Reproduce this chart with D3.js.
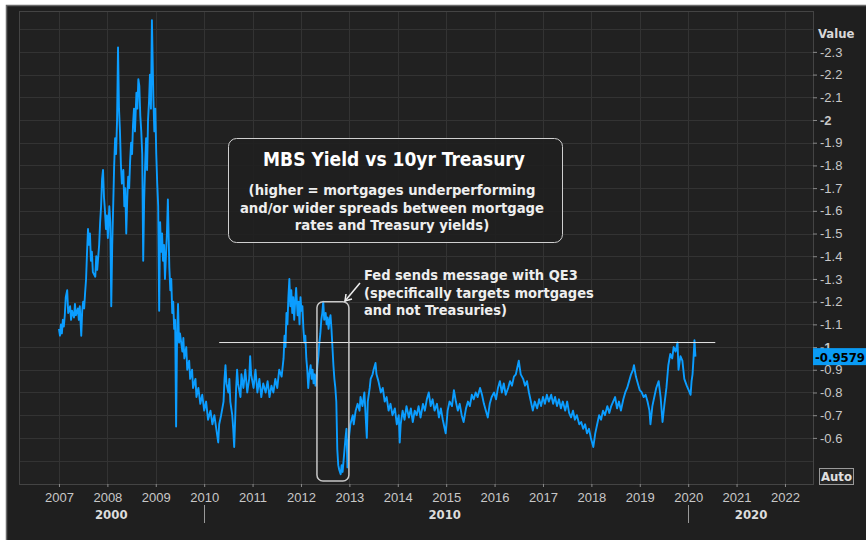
<!DOCTYPE html>
<html>
<head>
<meta charset="utf-8">
<script src="https://cdn.jsdelivr.net/npm/d3@7"></script>
<style>
  html, body { margin: 0; padding: 0; background: #fff; }
  svg { display: block; font-family: "DejaVu Sans Condensed", "DejaVu Sans", sans-serif; font-stretch: condensed; }
</style>
</head>
<body>
<svg id="chart" width="866" height="540"></svg>
<script>
// MBS yield minus 10yr Treasury (decimal year, value)
const spreadSeries = [
  [2007.00,-1.08],[2007.02,-1.05],[2007.04,-1.10],[2007.06,-1.06],[2007.08,-1.12],[2007.10,-1.09],
  [2007.12,-1.14],[2007.14,-1.22],[2007.17,-1.25],[2007.19,-1.15],[2007.23,-1.18],[2007.25,-1.12],
  [2007.27,-1.16],[2007.31,-1.13],[2007.33,-1.19],[2007.35,-1.14],[2007.39,-1.17],[2007.41,-1.12],
  [2007.43,-1.18],[2007.46,-1.05],[2007.48,-1.16],[2007.50,-1.20],[2007.52,-1.17],[2007.54,-1.24],
  [2007.56,-1.30],[2007.58,-1.42],[2007.60,-1.52],[2007.62,-1.45],[2007.64,-1.50],[2007.66,-1.38],
  [2007.68,-1.42],[2007.70,-1.33],[2007.75,-1.31],[2007.77,-1.40],[2007.79,-1.34],[2007.83,-1.45],
  [2007.85,-1.55],[2007.87,-1.62],[2007.89,-1.74],[2007.91,-1.78],[2007.93,-1.66],[2007.95,-1.60],
  [2007.97,-1.52],[2007.99,-1.58],[2008.01,-1.48],[2008.04,-1.62],[2008.06,-1.55],[2008.08,-1.18],
  [2008.10,-1.45],[2008.12,-1.62],[2008.14,-1.80],[2008.16,-1.92],[2008.18,-1.85],[2008.20,-2.00],
  [2008.22,-2.32],[2008.24,-2.05],[2008.26,-1.95],[2008.28,-1.80],[2008.30,-1.72],[2008.33,-1.78],
  [2008.35,-1.62],[2008.37,-1.70],[2008.39,-1.50],[2008.41,-1.65],[2008.43,-1.75],[2008.45,-1.70],
  [2008.47,-1.82],[2008.49,-1.90],[2008.51,-1.85],[2008.53,-1.98],[2008.55,-2.05],[2008.57,-1.95],
  [2008.60,-2.12],[2008.62,-2.05],[2008.64,-2.18],[2008.66,-2.15],[2008.68,-2.02],[2008.70,-1.95],
  [2008.72,-1.85],[2008.74,-1.38],[2008.76,-1.65],[2008.78,-1.80],[2008.80,-1.92],[2008.82,-1.78],
  [2008.84,-2.00],[2008.86,-2.08],[2008.88,-2.20],[2008.90,-2.05],[2008.92,-2.44],[2008.95,-2.10],
  [2008.97,-1.95],[2008.99,-2.05],[2009.01,-1.85],[2009.03,-1.72],[2009.05,-1.62],[2009.07,-1.16],
  [2009.09,-1.55],[2009.11,-1.42],[2009.13,-1.50],[2009.15,-1.38],[2009.17,-1.45],[2009.19,-1.30],
  [2009.21,-1.40],[2009.23,-1.50],[2009.25,-1.65],[2009.28,-1.35],[2009.30,-1.25],[2009.32,-1.30],
  [2009.34,-1.15],[2009.36,-1.20],[2009.38,-1.08],[2009.40,-1.12],[2009.42,-0.65],[2009.44,-1.05],
  [2009.46,-1.19],[2009.48,-1.02],[2009.50,-1.06],[2009.55,-0.98],[2009.57,-1.04],[2009.59,-0.95],
  [2009.63,-1.00],[2009.65,-0.90],[2009.69,-0.94],[2009.71,-0.86],[2009.75,-0.90],[2009.77,-0.82],
  [2009.82,-0.86],[2009.84,-0.78],[2009.88,-0.82],[2009.92,-0.75],[2009.96,-0.79],[2010.00,-0.72],
  [2010.04,-0.76],[2010.08,-0.68],[2010.13,-0.72],[2010.17,-0.66],[2010.21,-0.70],[2010.25,-0.64],
  [2010.29,-0.58],[2010.31,-0.66],[2010.35,-0.70],[2010.40,-0.76],[2010.42,-0.86],[2010.44,-0.92],
  [2010.46,-0.84],[2010.50,-0.80],[2010.52,-0.86],[2010.54,-0.76],[2010.58,-0.70],[2010.60,-0.64],
  [2010.62,-0.56],[2010.64,-0.68],[2010.66,-0.82],[2010.68,-0.90],[2010.70,-0.84],[2010.75,-0.78],
  [2010.77,-0.88],[2010.81,-0.82],[2010.85,-0.90],[2010.89,-0.80],[2010.93,-0.86],[2010.95,-0.96],
  [2010.97,-0.88],[2011.02,-0.82],[2011.06,-0.90],[2011.10,-0.80],[2011.14,-0.86],[2011.18,-0.78],
  [2011.22,-0.84],[2011.27,-0.80],[2011.31,-0.85],[2011.35,-0.78],[2011.39,-0.83],[2011.43,-0.80],
  [2011.47,-0.86],[2011.51,-0.82],[2011.55,-0.90],[2011.60,-0.87],[2011.64,-0.95],[2011.66,-1.05],
  [2011.68,-1.00],[2011.70,-1.15],[2011.72,-1.10],[2011.74,-1.22],[2011.76,-1.30],[2011.78,-1.18],
  [2011.80,-1.25],[2011.82,-1.15],[2011.84,-1.22],[2011.86,-1.12],[2011.88,-1.20],[2011.90,-1.26],
  [2011.93,-1.14],[2011.95,-1.20],[2011.97,-1.10],[2011.99,-1.22],[2012.01,-1.16],[2012.03,-1.18],
  [2012.05,-1.08],[2012.07,-1.02],[2012.09,-1.05],[2012.11,-0.95],[2012.13,-0.90],[2012.15,-0.82],
  [2012.17,-0.88],[2012.20,-0.92],[2012.22,-0.86],[2012.24,-0.90],[2012.26,-0.84],[2012.28,-0.88],
  [2012.30,-0.83],[2012.32,-0.87],[2012.34,-0.92],[2012.36,-0.96],[2012.38,-1.02],[2012.40,-1.06],
  [2012.42,-1.12],[2012.44,-1.15],[2012.46,-1.20],[2012.48,-1.12],[2012.51,-1.15],[2012.53,-1.10],
  [2012.55,-1.13],[2012.57,-1.08],[2012.59,-1.12],[2012.61,-1.14],[2012.63,-1.08],[2012.65,-1.00],
  [2012.67,-0.92],[2012.69,-0.86],[2012.71,-0.82],[2012.73,-0.76],[2012.75,-0.55],[2012.77,-0.48],
  [2012.79,-0.46],[2012.82,-0.44],[2012.84,-0.48],[2012.86,-0.45],[2012.88,-0.50],[2012.90,-0.55],
  [2012.92,-0.60],[2012.94,-0.64],[2012.96,-0.47],[2012.98,-0.58],[2013.00,-0.62],[2013.02,-0.66],
  [2013.07,-0.70],[2013.09,-0.66],[2013.13,-0.72],[2013.17,-0.75],[2013.21,-0.72],[2013.23,-0.78],
  [2013.27,-0.74],[2013.31,-0.80],[2013.36,-0.60],[2013.38,-0.76],[2013.42,-0.82],[2013.44,-0.86],
  [2013.48,-0.88],[2013.50,-0.90],[2013.54,-0.93],[2013.56,-0.88],[2013.60,-0.85],[2013.65,-0.80],
  [2013.69,-0.82],[2013.73,-0.76],[2013.77,-0.78],[2013.81,-0.72],[2013.85,-0.75],[2013.89,-0.70],
  [2013.94,-0.73],[2013.98,-0.66],[2014.02,-0.70],[2014.04,-0.58],[2014.06,-0.66],[2014.10,-0.72],
  [2014.14,-0.68],[2014.18,-0.74],[2014.23,-0.69],[2014.27,-0.73],[2014.31,-0.67],[2014.35,-0.72],
  [2014.39,-0.70],[2014.43,-0.74],[2014.47,-0.69],[2014.52,-0.75],[2014.56,-0.72],[2014.60,-0.77],
  [2014.64,-0.80],[2014.68,-0.74],[2014.72,-0.77],[2014.76,-0.72],[2014.81,-0.75],[2014.85,-0.69],
  [2014.89,-0.73],[2014.93,-0.68],[2014.99,-0.62],[2015.03,-0.72],[2015.07,-0.76],[2015.12,-0.74],
  [2015.16,-0.81],[2015.20,-0.76],[2015.24,-0.72],[2015.28,-0.75],[2015.32,-0.70],[2015.36,-0.67],
  [2015.41,-0.73],[2015.45,-0.76],[2015.49,-0.74],[2015.53,-0.79],[2015.57,-0.77],[2015.61,-0.80],
  [2015.65,-0.78],[2015.70,-0.82],[2015.74,-0.79],[2015.78,-0.75],[2015.82,-0.72],[2015.86,-0.69],
  [2015.90,-0.75],[2015.94,-0.78],[2015.99,-0.80],[2016.03,-0.77],[2016.07,-0.82],[2016.11,-0.85],
  [2016.15,-0.80],[2016.19,-0.84],[2016.23,-0.79],[2016.28,-0.82],[2016.32,-0.85],[2016.36,-0.83],
  [2016.40,-0.87],[2016.44,-0.88],[2016.48,-0.92],[2016.50,-0.94],[2016.54,-0.88],[2016.59,-0.86],
  [2016.63,-0.83],[2016.67,-0.85],[2016.71,-0.80],[2016.75,-0.76],[2016.79,-0.72],[2016.83,-0.76],
  [2016.88,-0.73],[2016.92,-0.77],[2016.96,-0.74],[2017.00,-0.78],[2017.04,-0.75],[2017.08,-0.79],
  [2017.12,-0.76],[2017.17,-0.79],[2017.21,-0.75],[2017.25,-0.78],[2017.29,-0.74],[2017.33,-0.77],
  [2017.37,-0.73],[2017.41,-0.76],[2017.46,-0.72],[2017.50,-0.76],[2017.54,-0.71],[2017.58,-0.69],
  [2017.62,-0.72],[2017.66,-0.68],[2017.70,-0.70],[2017.75,-0.66],[2017.79,-0.67],[2017.83,-0.64],
  [2017.87,-0.66],[2017.91,-0.62],[2017.95,-0.64],[2017.99,-0.60],[2018.04,-0.56],[2018.08,-0.62],
  [2018.12,-0.66],[2018.16,-0.70],[2018.20,-0.68],[2018.24,-0.72],[2018.28,-0.70],[2018.33,-0.74],
  [2018.37,-0.71],[2018.41,-0.74],[2018.45,-0.76],[2018.49,-0.78],[2018.53,-0.73],[2018.57,-0.76],
  [2018.61,-0.72],[2018.66,-0.77],[2018.70,-0.80],[2018.74,-0.82],[2018.78,-0.85],[2018.82,-0.88],
  [2018.86,-0.90],[2018.88,-0.92],[2018.92,-0.87],[2018.96,-0.84],[2019.00,-0.81],[2019.04,-0.80],
  [2019.08,-0.78],[2019.12,-0.79],[2019.16,-0.76],[2019.20,-0.72],[2019.22,-0.66],[2019.26,-0.74],
  [2019.30,-0.78],[2019.34,-0.82],[2019.39,-0.85],[2019.43,-0.78],[2019.47,-0.67],[2019.51,-0.75],
  [2019.55,-0.82],[2019.59,-0.92],[2019.63,-0.97],[2019.67,-0.95],[2019.70,-1.00],[2019.74,-0.98],
  [2019.78,-1.02],[2019.80,-0.90],[2019.84,-0.96],[2019.88,-0.94],[2019.92,-0.86],[2019.97,-0.83],
  [2020.01,-0.81],[2020.05,-0.79],[2020.07,-0.85],[2020.09,-0.88],[2020.11,-0.95],[2020.13,-1.03],
  [2020.15,-0.9579]
];

const yearTicks = d3.range(2007, 2023);
const valueTicks = d3.range(23, 5, -1).map(d => -d / 10);   // labelled -2.3 .. -0.6
const gridValues = d3.range(24, 4, -1).map(d => -d / 10);   // -2.4 .. -0.5
const eraLabels = [{ label: '2000', year: 2008.08 }, { label: '2010', year: 2014.97 }, { label: '2020', year: 2021.3 }];
const eraBreaks = [2010, 2020];

const refLine = { value: -1.02, from: 2010.31, to: 2020.56 };
const qe3Window = { from: 2012.33, to: 2012.99, top: -1.2, bottom: -0.41 };

const titleText = 'MBS Yield vs 10yr Treasury';
const subtitleLines = ['(higher = mortgages underperforming', 'and/or wider spreads between mortgage', 'rates and Treasury yields)'];
const qe3Lines = ['Fed sends message with QE3', '(specifically targets mortgages', 'and not Treasuries)'];

const plot = { left: 19, top: 11, right: 813, bottom: 484 };
const svg = d3.select('#chart');

const x = d3.scaleLinear().domain([2006.174, 2022.579]).range([plot.left, plot.right]);
const y = d3.scaleLinear().domain([-2.48, -0.397]).range([plot.top, plot.bottom]);

// panel
svg.append('rect').attr('x', 6.5).attr('y', 5.5).attr('width', 866).attr('height', 540)
  .attr('fill', '#1f1f1f').attr('stroke', '#6a6a6a').attr('stroke-width', 1.5);
svg.append('rect').attr('x', plot.left).attr('y', plot.top)
  .attr('width', plot.right - plot.left).attr('height', plot.bottom - plot.top)
  .attr('fill', '#212121');

// grid
const grid = svg.append('g').attr('stroke', '#333').attr('stroke-width', 1);
grid.selectAll('.gv').data(yearTicks).enter().append('line')
  .attr('x1', d => Math.round(x(d)) + 0.5).attr('x2', d => Math.round(x(d)) + 0.5)
  .attr('y1', plot.top).attr('y2', plot.bottom);
grid.selectAll('.gh').data(gridValues).enter().append('line')
  .attr('x1', plot.left).attr('x2', plot.right)
  .attr('y1', d => Math.round(y(d)) + 0.5).attr('y2', d => Math.round(y(d)) + 0.5);

svg.append('rect').attr('x', plot.left + 0.5).attr('y', plot.top + 0.5)
  .attr('width', plot.right - plot.left).attr('height', plot.bottom - plot.top)
  .attr('fill', 'none').attr('stroke', '#444');

// series
const line = d3.line().x(d => x(d[0])).y(d => y(d[1]));
svg.append('path').datum(spreadSeries)
  .attr('d', line).attr('fill', 'none')
  .attr('stroke', '#0b9dff').attr('stroke-width', 1.9).attr('stroke-linejoin', 'round');

// reference line
svg.append('line')
  .attr('x1', x(refLine.from)).attr('x2', x(refLine.to))
  .attr('y1', y(refLine.value)).attr('y2', y(refLine.value))
  .attr('stroke', '#e6e6e6').attr('stroke-width', 1);

// QE3 window
svg.append('rect')
  .attr('x', x(qe3Window.from)).attr('y', y(qe3Window.top))
  .attr('width', x(qe3Window.to) - x(qe3Window.from))
  .attr('height', y(qe3Window.bottom) - y(qe3Window.top))
  .attr('rx', 6).attr('fill', 'none').attr('stroke', '#c8c8c8').attr('stroke-width', 1.5);

// arrow
const ax1 = 360, ay1 = 283, ax2 = 345, ay2 = 301;
svg.append('line').attr('x1', ax1).attr('y1', ay1).attr('x2', ax2).attr('y2', ay2)
  .attr('stroke', '#eee').attr('stroke-width', 1.5);
svg.append('path').attr('d', `M${ax2 + 1},${ay2 - 7} L${ax2},${ay2} L${ax2 + 7},${ay2 - 2}`)
  .attr('fill', 'none').attr('stroke', '#eee').attr('stroke-width', 1.5);

const qe3 = svg.append('text').attr('fill', '#eee').attr('font-weight', 'bold').attr('font-size', 14.5);
qe3.selectAll('tspan').data(qe3Lines).enter().append('tspan')
  .attr('x', 364).attr('y', (d, i) => 280 + i * 17.5).text(d => d);

// title box
svg.append('rect').attr('x', 228.5).attr('y', 138.5).attr('width', 334).attr('height', 104)
  .attr('rx', 8).attr('fill', '#1f1f1f').attr('fill-opacity', 0.9)
  .attr('stroke', '#cfcfcf').attr('stroke-width', 1);
svg.append('text').attr('x', 394).attr('y', 166).attr('text-anchor', 'middle')
  .attr('fill', '#fff').attr('font-weight', 'bold').attr('font-size', 19).text(titleText);
const sub = svg.append('text').attr('text-anchor', 'middle').attr('fill', '#eee')
  .attr('font-weight', 'bold').attr('font-size', 14.7);
sub.selectAll('tspan').data(subtitleLines).enter().append('tspan')
  .attr('x', 392).attr('y', (d, i) => 195 + i * 17.5).text(d => d);

// right axis
const yAxis = svg.append('g').attr('transform', `translate(${plot.right},0)`)
  .call(d3.axisRight(y).tickValues(valueTicks).tickSize(4).tickPadding(3).tickFormat(d => String(d)));
yAxis.select('.domain').remove();
yAxis.selectAll('line').attr('stroke', '#8a8a8a');
yAxis.selectAll('text').attr('fill', '#c8c8c8').attr('font-size', 13)
  .attr('font-family', null)
  .attr('font-weight', d => Number.isInteger(d) ? 'bold' : 'normal');

svg.append('text').attr('x', 818).attr('y', 38).attr('fill', '#d8d8d8')
  .attr('font-weight', 'bold').attr('font-size', 13).text('Value');

// last value tag (covers part of the -1 label, as in the source)
const last = spreadSeries[spreadSeries.length - 1];
svg.append('rect').attr('x', plot.right).attr('y', y(last[1]) - 8.5).attr('width', 60).attr('height', 17)
  .attr('fill', '#0a9bf5');
svg.append('text').attr('x', plot.right + 2).attr('y', y(last[1]) + 5)
  .attr('fill', '#000').attr('font-weight', 'bold').attr('font-size', 13).text(String(last[1]));

// auto button
svg.append('rect').attr('x', 819.5).attr('y', 468.5).attr('width', 34).attr('height', 16)
  .attr('fill', '#262626').attr('stroke', '#9a9a9a');
svg.append('text').attr('x', 836.5).attr('y', 481).attr('text-anchor', 'middle')
  .attr('fill', '#e0e0e0').attr('font-weight', 'bold').attr('font-size', 13).text('Auto');

// bottom axis
const xAxis = svg.append('g').attr('transform', `translate(0,${plot.bottom})`)
  .call(d3.axisBottom(x).tickValues(yearTicks).tickSize(3).tickPadding(6).tickFormat(d3.format('d')));
xAxis.select('.domain').remove();
xAxis.selectAll('line').attr('stroke', '#8a8a8a');
xAxis.selectAll('text').attr('fill', '#c8c8c8').attr('font-size', 13).attr('font-family', null);

svg.selectAll('.era').data(eraLabels).enter().append('text')
  .attr('x', d => x(d.year)).attr('y', 519).attr('text-anchor', 'middle')
  .attr('fill', '#dcdcdc').attr('font-weight', 'bold').attr('font-size', 13).text(d => d.label);
svg.selectAll('.era-break').data(eraBreaks).enter().append('line')
  .attr('x1', d => Math.round(x(d)) + 0.5).attr('x2', d => Math.round(x(d)) + 0.5)
  .attr('y1', 505).attr('y2', 523).attr('stroke', '#999');
</script>
</body>
</html>
